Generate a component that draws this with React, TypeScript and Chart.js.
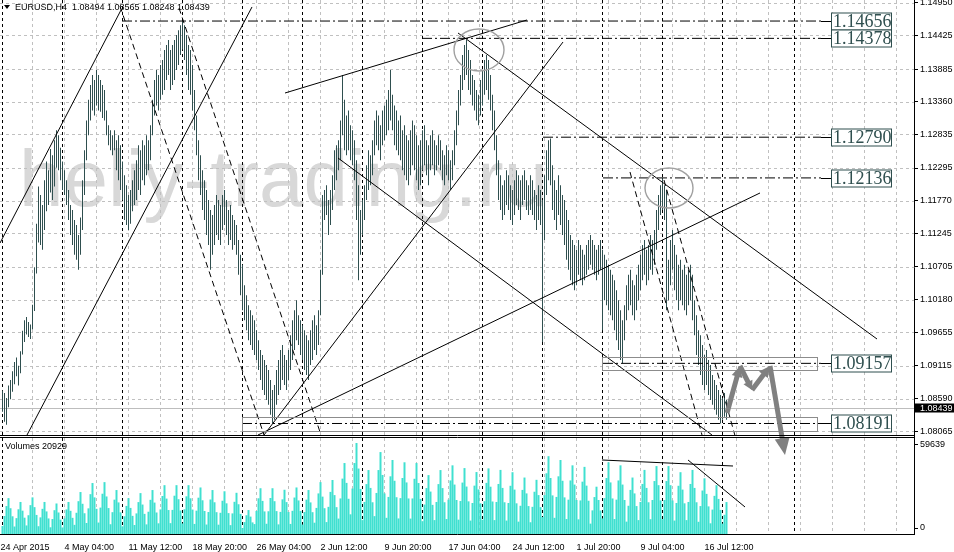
import React, { useEffect, useRef } from 'react';
import { Chart, registerables } from 'chart.js';

Chart.register(...registerables);

// ---------- text ----------
const SYMBOL_TITLE = 'EURUSD,H4  1.08494 1.08565 1.08248 1.08439';
const VOLUME_TITLE = 'Volumes 20929';
const WATERMARK = 'heliy-trading.ru';
const CURRENT_PRICE = 1.08439;

// ---------- H4 bars (index 0 = 27 Apr 2015 00:00), prices in pips above 1.0000 ----------
const HIGH_PIPS = [
  872, 868, 860, 880, 889, 903, 918, 925, 912, 935, 968, 985, 990, 982, 978, 1010, 1070, 1140, 1200, 1186, 1170, 1210, 1240, 1226, 1260, 1250, 1274, 1290, 1282, 1262,
  1240, 1226, 1210, 1194, 1170, 1162, 1146, 1138, 1122, 1150, 1210, 1258, 1306, 1339, 1363, 1379, 1371, 1387, 1379, 1371, 1363, 1355, 1322, 1298, 1290, 1282, 1290, 1274, 1282, 1266,
  1240, 1218, 1202, 1186, 1194, 1210, 1226, 1242, 1266, 1258, 1274, 1266, 1282, 1274, 1298, 1339, 1371, 1387, 1379, 1395, 1403, 1419, 1427, 1435, 1419, 1427, 1435, 1443, 1451, 1459,
  1466, 1459, 1443, 1427, 1419, 1395, 1355, 1314, 1274, 1250, 1226, 1210, 1194, 1178, 1162, 1154, 1170, 1186, 1178, 1170, 1186, 1194, 1178, 1162, 1170, 1154, 1146, 1138, 1114, 1090,
  1074, 1041, 1025, 1009, 1001, 993, 985, 969, 953, 937, 929, 921, 913, 905, 889, 873, 881, 905, 921, 937, 945, 929, 921, 937, 961, 985, 1001, 1017, 993, 985,
  977, 969, 961, 953, 969, 985, 993, 977, 1001, 1066, 1186, 1194, 1202, 1178, 1194, 1218, 1258, 1266, 1274, 1306, 1379, 1339, 1314, 1322, 1298, 1290, 1274, 1242, 1202, 1162,
  1178, 1202, 1234, 1258, 1250, 1274, 1306, 1322, 1314, 1298, 1322, 1330, 1339, 1355, 1387, 1347, 1330, 1322, 1306, 1314, 1290, 1298, 1282, 1274, 1290, 1306, 1298, 1282, 1266, 1274,
  1290, 1298, 1274, 1266, 1282, 1290, 1274, 1266, 1282, 1274, 1258, 1250, 1266, 1258, 1242, 1258, 1290, 1322, 1355, 1379, 1411, 1427, 1435, 1419, 1403, 1379, 1371, 1355, 1347, 1371,
  1387, 1403, 1411, 1403, 1379, 1347, 1322, 1282, 1242, 1218, 1202, 1210, 1226, 1218, 1202, 1194, 1210, 1226, 1218, 1210, 1218, 1226, 1210, 1202, 1218, 1210, 1194, 1186, 1202, 1194,
  1178, 1218, 1258, 1274, 1277, 1234, 1210, 1194, 1218, 1202, 1186, 1178, 1162, 1146, 1122, 1114, 1106, 1098, 1114, 1106, 1098, 1090, 1106, 1114, 1122, 1114, 1106, 1098, 1106, 1114,
  1098, 1090, 1082, 1074, 1066, 1058, 1049, 1033, 1017, 1001, 985, 1009, 1041, 1058, 1066, 1049, 1041, 1058, 1074, 1090, 1106, 1114, 1098, 1106, 1122, 1114, 1130, 1162, 1186, 1202,
  1214, 1202, 1194, 1082, 1114, 1130, 1106, 1090, 1074, 1082, 1066, 1074, 1058, 1066, 1074, 1058, 1017, 993, 969, 961, 945, 929, 937, 921, 913, 897, 889, 881, 873, 865,
  860, 868, 857
];
const LOW_PIPS = [
  838, 822, 817, 845, 858, 870, 882, 895, 880, 900, 930, 950, 962, 958, 955, 970, 1000, 1060, 1110, 1106, 1098, 1130, 1160, 1170, 1190, 1178, 1200, 1230, 1226, 1210,
  1194, 1186, 1170, 1146, 1122, 1106, 1090, 1082, 1066, 1090, 1130, 1186, 1242, 1282, 1306, 1322, 1314, 1330, 1322, 1320, 1310, 1306, 1282, 1266, 1258, 1250, 1258, 1226, 1210, 1194,
  1178, 1146, 1138, 1130, 1140, 1160, 1170, 1178, 1194, 1186, 1210, 1202, 1218, 1226, 1242, 1282, 1314, 1330, 1322, 1339, 1347, 1355, 1371, 1379, 1355, 1363, 1371, 1387, 1395, 1411,
  1420, 1403, 1379, 1355, 1347, 1322, 1290, 1250, 1210, 1186, 1162, 1146, 1122, 1106, 1066, 1090, 1106, 1122, 1114, 1106, 1130, 1138, 1122, 1106, 1114, 1098, 1106, 1090, 1058, 1025,
  1001, 985, 969, 953, 945, 937, 929, 921, 905, 889, 873, 865, 857, 849, 833, 819, 825, 849, 865, 873, 889, 881, 873, 889, 905, 921, 937, 953, 945, 929,
  921, 905, 897, 889, 913, 921, 937, 929, 945, 993, 1058, 1146, 1154, 1122, 1138, 1162, 1194, 1210, 1226, 1242, 1282, 1258, 1250, 1258, 1242, 1234, 1210, 1146, 1049, 1090,
  1122, 1146, 1178, 1194, 1202, 1218, 1250, 1266, 1258, 1242, 1266, 1274, 1282, 1290, 1306, 1290, 1266, 1258, 1250, 1242, 1226, 1218, 1210, 1202, 1218, 1234, 1226, 1210, 1194, 1202,
  1226, 1234, 1218, 1202, 1226, 1234, 1218, 1226, 1234, 1226, 1210, 1202, 1218, 1210, 1194, 1210, 1234, 1266, 1298, 1330, 1355, 1371, 1379, 1355, 1347, 1330, 1322, 1306, 1298, 1314,
  1330, 1347, 1355, 1339, 1322, 1290, 1258, 1218, 1178, 1162, 1146, 1154, 1170, 1162, 1146, 1138, 1154, 1170, 1162, 1146, 1170, 1178, 1162, 1154, 1162, 1154, 1146, 1130, 1146, 1138,
  950, 1114, 1186, 1210, 1202, 1162, 1146, 1130, 1154, 1138, 1122, 1106, 1082, 1066, 1049, 1041, 1033, 1041, 1058, 1049, 1041, 1049, 1058, 1066, 1074, 1066, 1058, 1049, 1058, 1066,
  969, 1017, 1009, 1001, 993, 985, 969, 953, 937, 921, 916, 953, 985, 1001, 1009, 993, 985, 1001, 1017, 1033, 1049, 1058, 1041, 1049, 1066, 1058, 1074, 1098, 1130, 1154,
  1162, 1146, 1001, 1017, 1041, 1066, 1033, 1017, 1001, 1017, 1009, 1001, 993, 1009, 1017, 985, 961, 929, 913, 897, 881, 873, 881, 865, 857, 849, 841, 833, 825, 819,
  825, 830, 825
];
const VOLUMES = [
  5200, 11800, 18300, 23500, 16900, 11600, 4900, 10400, 16200, 21000, 15300, 10700, 5600, 12300, 18900, 24000, 17600, 12500, 5100, 10900, 16500, 21000, 14800, 10200, 4400, 9800, 15600, 20000, 14100, 9400,
  4300, 10200, 16100, 21000, 15200, 10600, 6000, 13900, 21500, 27500, 19800, 13600, 7200, 16800, 26100, 33400, 24000, 16500, 7500, 17300, 26400, 34000, 24600, 17000, 6400, 14300, 22500, 28800, 20700, 14200,
  5000, 11600, 18400, 23500, 17100, 11900, 5900, 13500, 20900, 26800, 19300, 13200, 6300, 14600, 22400, 28800, 20600, 14100, 7000, 16100, 24900, 32000, 23200, 15700, 7100, 15800, 25100, 32000, 22800, 15400,
  6900, 16200, 24700, 32000, 23400, 16000, 6600, 15300, 23800, 30500, 22100, 15100, 6200, 14400, 22600, 28800, 20800, 14300, 6100, 13900, 21800, 28000, 20100, 13700, 5800, 13500, 21100, 27000, 19500, 13200,
  3900, 7800, 12300, 15700, 11400, 7600, 6500, 15100, 23400, 30000, 21700, 14800, 6700, 14900, 23600, 30000, 21500, 15000, 6300, 14500, 22700, 29000, 20900, 14400, 6600, 15200, 23900, 30500, 22000, 15100,
  6200, 14400, 22500, 28800, 20700, 14300, 7400, 17100, 26600, 34000, 24500, 16900, 7800, 17800, 27600, 35400, 25500, 17600, 10100, 23300, 36300, 46500, 33500, 23100, 12900, 29800, 46500, 59639, 42900, 29500,
  9100, 21000, 32700, 41900, 30200, 20800, 11700, 26900, 41900, 53700, 38700, 26600, 10600, 24300, 37800, 48500, 34900, 24100, 10200, 23500, 36700, 47000, 33800, 23300, 10100, 23300, 36200, 46500, 33400, 23000,
  8400, 19300, 30100, 38600, 27800, 19100, 9100, 21000, 32700, 41900, 30100, 20800, 9800, 22500, 35100, 45000, 32400, 22300, 9400, 21600, 33700, 43200, 31100, 21400, 8800, 20300, 31700, 40600, 29200, 20100,
  9300, 21500, 33500, 43000, 31000, 21300, 9100, 21000, 32800, 42000, 30200, 20800, 8800, 20300, 31600, 40500, 29100, 20100, 8100, 18500, 28900, 37000, 26600, 18300, 7700, 17800, 27700, 35500, 25500, 17600,
  11100, 25500, 39800, 51000, 36700, 25300, 10600, 24300, 37800, 48500, 34900, 24000, 9800, 22500, 35100, 45000, 32400, 22300, 9600, 22000, 34300, 44000, 31700, 21800, 6800, 15500, 24200, 31000, 22300, 15400,
  10200, 23500, 36700, 47000, 33800, 23300, 9800, 22500, 35100, 45000, 32400, 22300, 8100, 18500, 28900, 37000, 26600, 18300, 9100, 21000, 32800, 42000, 30200, 20800, 9700, 22300, 34700, 44500, 32000, 22000,
  9700, 22300, 34700, 44500, 32000, 22000, 8800, 20300, 31600, 40500, 29100, 20100, 9100, 21000, 32800, 42000, 30200, 20800, 8000, 18300, 28500, 36500, 26300, 18100, 7000, 16000, 25000, 32000, 23000, 15800,
  6800, 12600, 20929
];

// ---------- axes ----------
const PRICE_TICKS = [1.1495, 1.14425, 1.13885, 1.1336, 1.12835, 1.12295, 1.1177, 1.11245, 1.10705, 1.1018, 1.09655, 1.09115, 1.0859, 1.08065];
const VOLUME_TICK_LABELS = ['0', '59639'];
const VOLUME_TICK_VALUES = [3930, 58330];
const TIME_LABELS = ['24 Apr 2015', '4 May 04:00', '11 May 12:00', '18 May 20:00', '26 May 04:00', '2 Jun 12:00', '9 Jun 20:00', '17 Jun 04:00', '24 Jun 12:00', '1 Jul 20:00', '9 Jul 04:00', '16 Jul 12:00'];
const TIME_LABEL_BARS = [-1, 31, 63, 95, 127, 159, 191, 223, 255, 287, 319, 351];
const GRID_BARS = [14.75, 30.75, 46.75, 62.75, 78.75, 94.75, 110.75, 126.75, 142.75, 158.75, 174.75, 190.75, 206.75, 222.75, 238.75, 254.75, 270.75, 286.75, 302.75, 318.75, 334.75, 350.75, 366.75, 382.75, 398.75, 414.75, 430.75, 446.75];
const WEEK_SEPARATOR_BARS = [0, 30, 60, 90, 120, 150, 180, 210, 240, 270, 300, 330, 360, 395.9];

// ---------- drawn objects (bar index, price) ----------
const SOLID_LINES = [
  [-1.25, 1.1109, 59.25, 1.14833],
  [12.25, 1.08006, 124.75, 1.14882],
  [141.25, 1.135, 262.25, 1.14673],
  [130.75, 1.08006, 280.25, 1.14319],
  [127.75, 1.08006, 378.75, 1.11894],
  [167.75, 1.12456, 354.75, 1.08006],
  [227.75, 1.14464, 437.25, 1.09548]
];
const DASHED_LINES = [
  [58.75, 1.14898, 130.75, 1.08006],
  [88.25, 1.14866, 159.25, 1.08006],
  [313.75, 1.12231, 349.75, 1.08006],
  [330.75, 1.12102, 366.15, 1.08006]
];
const LEVEL_PRICES = [1.14656, 1.14378, 1.1279, 1.12136, 1.09157, 1.08191];
const LEVEL_FROM_BARS = [59.75, 209.75, 270.25, 300.25, 300.25, 119.75];
const LEVEL_TO_BAR = 409.25;
const LEVEL_LABEL_BAR = 414.25;
const BOXES = [
  [299.75, 1.09264, 407.25, 1.0905],
  [119.75, 1.083, 407.25, 1.08075]
];
const ELLIPSES = [
  [238.25, 1.14191, 12.5, 0.00337],
  [333.25, 1.11974, 12, 0.00321]
];
const FORECAST_BARS = [362.25, 368.75, 374.75, 383.75, 391.25];
const FORECAST_PRICES = [1.0836, 1.09115, 1.08729, 1.09115, 1.07685];
const VOLUME_LINES = [
  [299.75, 48500, 365.25, 44560],
  [342.75, 48500, 371.25, 17700]
];

Chart.defaults.font.family = '"Liberation Sans", Arial, sans-serif';

function drawArrow(ctx: any, x1: number, y1: number, x2: number, y2: number, headLen: number, headW: number, lw: number) {
  const dx = x2 - x1, dy = y2 - y1;
  const len = Math.hypot(dx, dy);
  const ux = dx / len, uy = dy / len;
  const bx = x2 - ux * headLen, by = y2 - uy * headLen;
  ctx.lineWidth = lw;
  ctx.beginPath();
  ctx.moveTo(x1, y1);
  ctx.lineTo(bx + ux, by + uy);
  ctx.stroke();
  ctx.beginPath();
  ctx.moveTo(x2, y2);
  ctx.lineTo(bx - uy * headW / 2, by + ux * headW / 2);
  ctx.lineTo(bx + uy * headW / 2, by - ux * headW / 2);
  ctx.closePath();
  ctx.fill();
}

const mtPlugin = {
  id: 'mt4',
  beforeDatasetsDraw(chart: any) {
    const { ctx, chartArea: ca, scales } = chart;
    const xs = scales.x, ys = scales.y;
    ctx.save();
    // watermark
    ctx.font = '80px "Liberation Sans"';
    ctx.fillStyle = '#D8D8D8';
    ctx.textBaseline = 'alphabetic';
    ctx.textAlign = 'left';
    ctx.fillText(WATERMARK, 19, 206);
    ctx.lineWidth = 1;
    // horizontal grid (price pane)
    ctx.strokeStyle = '#C0C0C0';
    ctx.setLineDash([3, 3]);
    for (const v of PRICE_TICKS) {
      const y = Math.round(ys.getPixelForValue(v)) + 0.5;
      ctx.beginPath(); ctx.moveTo(ca.left, y); ctx.lineTo(ca.right, y); ctx.stroke();
    }
    for (const b of GRID_BARS) {
      const x = Math.floor(xs.getPixelForValue(b)) + 0.5;
      ctx.beginPath(); ctx.moveTo(x, ca.top); ctx.lineTo(x, ca.bottom); ctx.stroke();
    }
    ctx.strokeStyle = '#000';
    for (const b of WEEK_SEPARATOR_BARS) {
      const x = Math.floor(xs.getPixelForValue(b)) + 0.5;
      ctx.beginPath(); ctx.moveTo(x, ca.top); ctx.lineTo(x, ca.bottom); ctx.stroke();
    }
    // bid line
    ctx.setLineDash([]);
    ctx.strokeStyle = '#BDBDBD';
    const by = Math.round(ys.getPixelForValue(CURRENT_PRICE)) + 0.5;
    ctx.beginPath(); ctx.moveTo(ca.left, by); ctx.lineTo(ca.right, by); ctx.stroke();
    ctx.restore();
  },
  afterDatasetsDraw(chart: any) {
    const { ctx, scales } = chart;
    const xs = scales.x, ys = scales.y;
    ctx.save();
    // rectangles
    ctx.strokeStyle = '#8C8C8C';
    ctx.lineWidth = 1;
    for (const [b1, p1, b2, p2] of BOXES) {
      const x1 = Math.round(xs.getPixelForValue(b1)) + 0.5, x2 = Math.round(xs.getPixelForValue(b2)) + 0.5;
      const y1 = Math.round(ys.getPixelForValue(p1)) + 0.5, y2 = Math.round(ys.getPixelForValue(p2)) + 0.5;
      ctx.strokeRect(x1, y1, x2 - x1, y2 - y1);
    }
    // ellipses
    ctx.strokeStyle = '#A0A0A0';
    ctx.lineWidth = 1.4;
    for (const [b, p, rb, rp] of ELLIPSES) {
      const cx = xs.getPixelForValue(b), cy = ys.getPixelForValue(p);
      const rx = Math.abs(xs.getPixelForValue(b + rb) - cx), ry = Math.abs(ys.getPixelForValue(p + rp) - cy);
      ctx.beginPath(); ctx.ellipse(cx, cy, rx, ry, 0, 0, Math.PI * 2); ctx.stroke();
    }
    // level labels
    ctx.font = '18px "Liberation Serif"';
    ctx.textBaseline = 'middle';
    ctx.textAlign = 'left';
    LEVEL_PRICES.forEach((p) => {
      const y = Math.round(ys.getPixelForValue(p)) + 0.5;
      const xa = xs.getPixelForValue(LEVEL_TO_BAR);
      const xb = Math.round(xs.getPixelForValue(LEVEL_LABEL_BAR)) + 0.5;
      ctx.strokeStyle = '#000';
      ctx.lineWidth = 1;
      ctx.beginPath(); ctx.moveTo(xa, y); ctx.lineTo(xb, y); ctx.stroke();
      ctx.fillStyle = '#FFFFFF';
      ctx.fillRect(xb, y - 8.5, 60, 17);
      ctx.strokeStyle = '#2F4F4F';
      ctx.strokeRect(xb, y - 8.5, 60, 17);
      ctx.fillStyle = '#2F4F4F';
      ctx.fillText(p.toFixed(5), xb + 1.5, y + 1);
    });
    // forecast arrows
    ctx.strokeStyle = '#808080';
    ctx.fillStyle = '#808080';
    ctx.lineCap = 'butt';
    const heads = [[11, 11], [9, 10], [11, 11], [17, 15]];
    for (let k = 0; k < FORECAST_BARS.length - 1; k++) {
      const x1 = xs.getPixelForValue(FORECAST_BARS[k]), y1 = ys.getPixelForValue(FORECAST_PRICES[k]);
      const x2 = xs.getPixelForValue(FORECAST_BARS[k + 1]), y2 = ys.getPixelForValue(FORECAST_PRICES[k + 1]);
      drawArrow(ctx, x1, y1, x2, y2, heads[k][0], heads[k][1], 5);
    }
    ctx.restore();
  },
  afterDraw(chart: any) {
    const { ctx, chartArea: ca, scales } = chart;
    const ys = scales.y, yv = scales.yVol;
    ctx.save();
    ctx.strokeStyle = '#000';
    ctx.lineWidth = 1;
    const pb = Math.round(ys.bottom) - 0.5;
    const vt = Math.round(yv.top) + 1.5;
    ctx.beginPath();
    ctx.moveTo(ca.left, pb); ctx.lineTo(ca.right + 1, pb);
    ctx.moveTo(ca.left, vt); ctx.lineTo(ca.right + 1, vt);
    ctx.moveTo(ca.left, ca.bottom + 0.5); ctx.lineTo(ca.right + 1, ca.bottom + 0.5);
    ctx.moveTo(ca.right + 0.5, ca.top); ctx.lineTo(ca.right + 0.5, ca.bottom + 1);
    ctx.stroke();
    // current price box
    const cy = ys.getPixelForValue(CURRENT_PRICE);
    ctx.fillStyle = '#000';
    ctx.fillRect(ca.right + 1, Math.round(cy) - 4.5, 40, 9);
    ctx.fillStyle = '#FFF';
    ctx.font = '9px "Liberation Sans"';
    ctx.textBaseline = 'middle';
    ctx.textAlign = 'left';
    ctx.fillText(CURRENT_PRICE.toFixed(5), ca.right + 6, Math.round(cy) + 0.5);
    // titles
    ctx.fillStyle = '#000';
    ctx.beginPath(); ctx.moveTo(4, 5); ctx.lineTo(10, 5); ctx.lineTo(7, 9); ctx.closePath(); ctx.fill();
    ctx.fillText(SYMBOL_TITLE, 15, 7.5);
    ctx.fillText(VOLUME_TITLE, 5, Math.round(yv.top) + 11);
    ctx.restore();
  }
};

export default function App() {
  const ref = useRef<HTMLCanvasElement>(null);
  useEffect(() => {
    document.body.style.margin = '0';
    const canvas = ref.current as HTMLCanvasElement;
    const toPrice = (p: number) => 1 + p / 10000;
    const datasets: any[] = [];
    SOLID_LINES.forEach((l) => datasets.push({
      type: 'line', data: [{ x: l[0], y: l[1] }, { x: l[2], y: l[3] }], yAxisID: 'y',
      borderColor: '#000', borderWidth: 1, pointRadius: 0, fill: false, tension: 0, order: 1
    }));
    DASHED_LINES.forEach((l) => datasets.push({
      type: 'line', data: [{ x: l[0], y: l[1] }, { x: l[2], y: l[3] }], yAxisID: 'y',
      borderColor: '#000', borderWidth: 1, borderDash: [6, 4], pointRadius: 0, fill: false, tension: 0, order: 1
    }));
    LEVEL_PRICES.forEach((p, k) => datasets.push({
      type: 'line', data: [{ x: LEVEL_FROM_BARS[k], y: p }, { x: LEVEL_TO_BAR, y: p }], yAxisID: 'y',
      borderColor: '#000', borderWidth: 1, borderDash: [10, 3, 2, 3], pointRadius: 0, fill: false, order: 1
    }));
    VOLUME_LINES.forEach((l) => datasets.push({
      type: 'line', data: [{ x: l[0], y: l[1] }, { x: l[2], y: l[3] }], yAxisID: 'yVol',
      borderColor: '#000', borderWidth: 1, pointRadius: 0, fill: false, order: 1
    }));
    datasets.push({
      type: 'bar', data: HIGH_PIPS.map((h, i) => ({ x: i, y: [toPrice(LOW_PIPS[i]), toPrice(h)] })),
      yAxisID: 'y', stack: 'all', backgroundColor: '#2F4F4F', borderWidth: 0, barThickness: 1, inflateAmount: 0, order: 5
    });
    datasets.push({
      type: 'bar', data: VOLUMES.map((v, i) => ({ x: i, y: v })),
      yAxisID: 'yVol', stack: 'all', backgroundColor: '#40E0D0', borderWidth: 0, barThickness: 2, inflateAmount: 0, order: 6
    });

    const chart = new Chart(canvas, {
      type: 'bar',
      data: { datasets },
      options: {
        animation: false,
        responsive: false,
        devicePixelRatio: 1,
        events: [],
        layout: { padding: 0, autoPadding: false },
        plugins: { legend: { display: false }, tooltip: { enabled: false } },
        scales: {
          x: {
            type: 'linear', position: 'bottom', min: -1.25, max: 455.75, offset: false,
            grid: { display: false }, border: { display: false },
            afterBuildTicks: (s: any) => { s.ticks = TIME_LABEL_BARS.map((v) => ({ value: v })); },
            afterFit: (s: any) => { s.height = 18; s.paddingLeft = 0; s.paddingRight = 0; },
            ticks: {
              autoSkip: false, maxRotation: 0, minRotation: 0, align: 'start', padding: 0,
              color: '#000', font: { size: 9 },
              callback: (_v: any, idx: number) => TIME_LABELS[idx]
            }
          },
          y: {
            type: 'linear', position: 'right', stack: 'pane', stackWeight: 436, stacked: false,
            min: 1.0799, max: 1.14994,
            grid: { display: true, drawOnChartArea: false, drawTicks: true, tickLength: 4, tickColor: '#000', color: '#000' },
            border: { display: false },
            afterBuildTicks: (s: any) => { s.ticks = PRICE_TICKS.map((v) => ({ value: v })); },
            afterFit: (s: any) => { s.width = 40; s.paddingTop = 0; s.paddingBottom = 0; },
            ticks: { autoSkip: false, padding: 2, color: '#000', font: { size: 9 }, callback: (v: any) => Number(v).toFixed(5) }
          },
          yVol: {
            type: 'linear', position: 'right', stack: 'pane', stackWeight: 98, stacked: false,
            min: 0, max: 64228,
            grid: { display: true, drawOnChartArea: false, drawTicks: true, tickLength: 4, tickColor: '#000', color: '#000' },
            border: { display: false },
            afterBuildTicks: (s: any) => { s.ticks = VOLUME_TICK_VALUES.map((v) => ({ value: v })); },
            afterFit: (s: any) => { s.width = 40; s.paddingTop = 0; s.paddingBottom = 0; },
            ticks: { autoSkip: false, padding: 2, color: '#000', font: { size: 9 }, callback: (_v: any, idx: number) => VOLUME_TICK_LABELS[idx] }
          }
        }
      } as any,
      plugins: [mtPlugin]
    });
    return () => chart.destroy();
  }, []);
  return (
    <canvas ref={ref} width={954} height={552} style={{ position: 'absolute', left: 0, top: 0, display: 'block', width: 954, height: 552 }} />
  );
}
